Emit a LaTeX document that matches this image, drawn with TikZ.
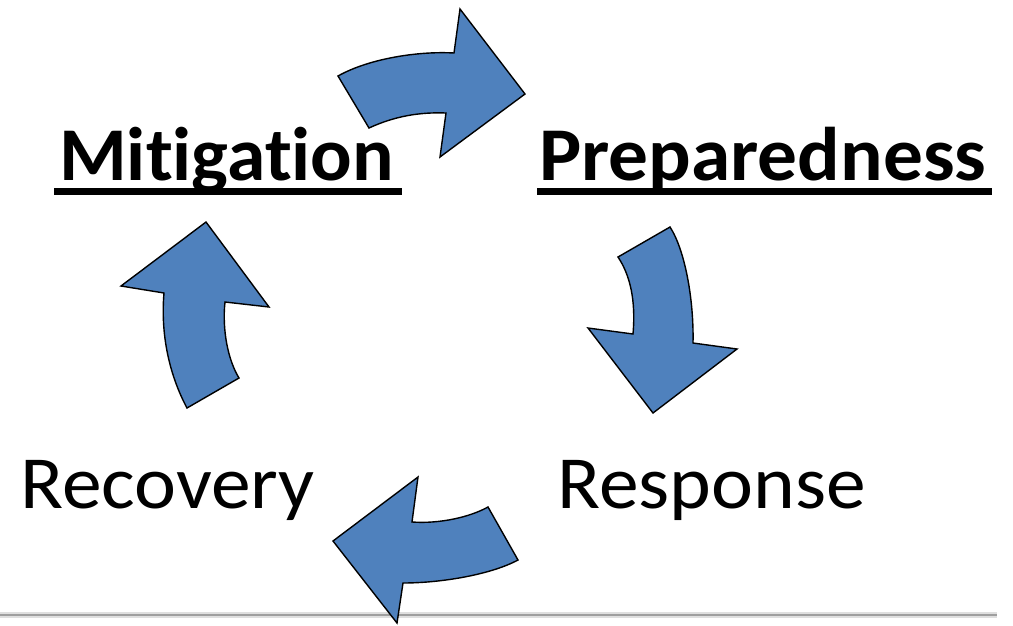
\documentclass[tikz,border=0pt]{standalone}
\usepackage{fontspec}
\setmainfont[Ligatures=NoCommon]{Carlito}
\newfontfamily\mitfont[Ligatures=NoCommon,FakeStretch=1.02]{Carlito}
\newfontfamily\prepfont[Ligatures=NoCommon,FakeStretch=1.045]{Carlito}
\newfontfamily\plainfont[Ligatures=NoCommon,FakeStretch=1.06]{Carlito}
\definecolor{arrowblue}{HTML}{4F81BD}
\begin{document}
\begin{tikzpicture}[x=1pt,y=-1pt,
  cyclearrow/.style={fill=arrowblue,draw=black,line width=1.4pt,line join=miter},
  phase/.style={anchor=base west,inner sep=0pt,font=\plainfont\fontsize{75}{80}\selectfont},
  keyphase/.style={anchor=base west,inner sep=0pt,font=\fontsize{76}{80}\selectfont\bfseries},
  underbar/.style={line width=6.5pt}]
\useasboundingbox (0,0) rectangle (1013,625);

% footer rule
\draw[gray!25,line width=6pt] (0,615) -- (997,615);
\draw[gray!75,line width=2.5pt] (0,615) -- (997,615);

% phase labels
\node[keyphase] (mit) at (59,180) {\mitfont\bfseries Mitigation};
\node[keyphase] (prep) at (539,180) {\prepfont\bfseries Preparedness};
\node[phase] (rec) at (20,508) {Recovery};
\node[phase] (resp) at (557,508) {Response};

\draw[underbar] (54,191.5) -- (402,191.5);
\draw[underbar] (537,191.5) -- (992,191.5);

% Mitigation -> Preparedness
\draw[cyclearrow] (338,76) -- (369,128)
  .. controls (395,116) and (420,112) .. (446,113)
  -- (440,157) -- (525,94) -- (460,9) -- (454,53)
  .. controls (420,51) and (370,58) .. (338,76) -- cycle;

% Preparedness -> Response
\draw[cyclearrow] (618,257) -- (670,227)
  .. controls (685,250) and (694,300) .. (693,343)
  -- (737,349) -- (653,413) -- (588,328) -- (633,334)
  .. controls (636,300) and (630,275) .. (618,257) -- cycle;

% Response -> Recovery
\draw[cyclearrow] (488,507) -- (518,560)
  .. controls (490,575) and (440,583) .. (403,583)
  -- (397,623) -- (333,541) -- (418,477) -- (412,522)
  .. controls (440,524) and (470,517) .. (488,507) -- cycle;

% Recovery -> Mitigation
\draw[cyclearrow] (187,408) -- (239,378)
  .. controls (228,360) and (222,330) .. (225,302)
  -- (269,307) -- (206,222) -- (121,286) -- (164,293)
  .. controls (160,340) and (172,380) .. (187,408) -- cycle;
\end{tikzpicture}
\end{document}
